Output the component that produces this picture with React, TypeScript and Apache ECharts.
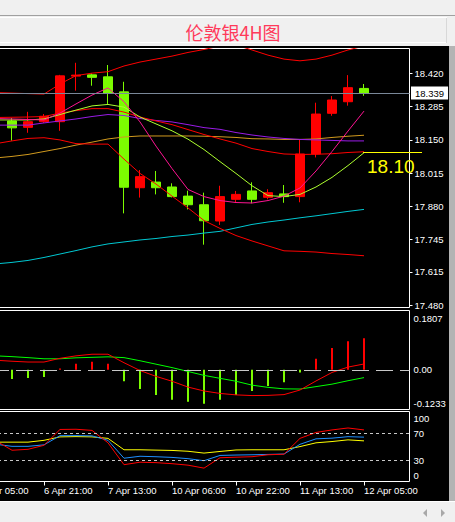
import React, { useEffect, useRef } from "react";
import * as echarts from "echarts";

const chartTitle = "伦敦银4H图";

// ---- candles (bar index 0..22), 4H bars ----
const candleOpen = [18.227, 18.201, 18.224, 18.224, 18.409, 18.414, 18.406, 18.345, 17.956, 17.979, 17.959, 17.922, 17.887, 17.821, 17.909, 17.943, 17.917, 17.931, 17.920, 18.093, 18.258, 18.305, 18.359];
const candleClose = [18.199, 18.224, 18.246, 18.410, 18.413, 18.404, 18.339, 17.958, 18.001, 17.956, 17.920, 17.887, 17.822, 17.920, 17.929, 17.909, 17.936, 17.920, 18.093, 18.255, 18.312, 18.362, 18.339];
const candleLow = [18.147, 18.179, 18.219, 18.187, 18.350, 18.370, 18.296, 17.852, 17.916, 17.929, 17.917, 17.868, 17.725, 17.805, 17.895, 17.893, 17.909, 17.895, 17.897, 18.079, 18.248, 18.289, 18.329];
const candleHigh = [18.239, 18.264, 18.255, 18.414, 18.463, 18.420, 18.454, 18.386, 18.028, 18.024, 17.974, 17.944, 17.936, 17.964, 17.943, 17.978, 17.950, 17.967, 18.152, 18.301, 18.328, 18.413, 18.377];

// ---- indicator lines start one bar earlier (bar index -1..22) ----
const lineStartBar = -1;
const bollUpper = [18.342, 18.340, 18.338, 18.336, 18.377, 18.411, 18.421, 18.427, 18.450, 18.466, 18.478, 18.490, 18.505, 18.517, 18.531, 18.535, 18.515, 18.494, 18.478, 18.471, 18.478, 18.494, 18.515, 18.531];
const bollMid = [18.241, 18.242, 18.243, 18.245, 18.259, 18.269, 18.277, 18.277, 18.263, 18.243, 18.227, 18.212, 18.192, 18.172, 18.154, 18.137, 18.115, 18.103, 18.093, 18.091, 18.092, 18.094, 18.099, 18.102];
const bollLower = [18.135, 18.146, 18.156, 18.159, 18.150, 18.135, 18.133, 18.133, 18.072, 18.014, 17.971, 17.922, 17.874, 17.823, 17.791, 17.762, 17.740, 17.720, 17.700, 17.698, 17.695, 17.689, 17.685, 17.680];
const maPink = [18.237, 18.235, 18.233, 18.231, 18.259, 18.296, 18.332, 18.361, 18.305, 18.223, 18.125, 18.034, 17.949, 17.920, 17.904, 17.896, 17.894, 17.904, 17.922, 17.955, 18.024, 18.103, 18.186, 18.267];
const maLime = [18.231, 18.231, 18.231, 18.235, 18.253, 18.271, 18.288, 18.294, 18.283, 18.243, 18.215, 18.187, 18.153, 18.111, 18.062, 18.014, 17.964, 17.924, 17.920, 17.929, 17.959, 17.998, 18.046, 18.098];
const maPurple = [18.210, 18.210, 18.210, 18.219, 18.227, 18.235, 18.245, 18.253, 18.249, 18.237, 18.229, 18.223, 18.212, 18.200, 18.193, 18.180, 18.170, 18.162, 18.156, 18.152, 18.150, 18.148, 18.146, 18.146];
const maOrange = [18.077, 18.083, 18.091, 18.103, 18.115, 18.129, 18.141, 18.154, 18.162, 18.166, 18.166, 18.166, 18.166, 18.165, 18.163, 18.160, 18.155, 18.154, 18.152, 18.152, 18.154, 18.160, 18.165, 18.169];
const maCyan = [17.647, 17.653, 17.661, 17.673, 17.687, 17.701, 17.716, 17.728, 17.736, 17.744, 17.750, 17.758, 17.764, 17.772, 17.779, 17.793, 17.807, 17.817, 17.825, 17.834, 17.842, 17.851, 17.860, 17.868];

// ---- MACD ----
const macdHist = [-0.0292, -0.0261, -0.0230, 0.0040, 0.0195, 0.0257, 0.0195, -0.0363, -0.0611, -0.0797, -0.0952, -0.1014, -0.1076, -0.0952, -0.0797, -0.0673, -0.0518, -0.0394, -0.0084, 0.0350, 0.0692, 0.0909, 0.1002];
const macdDif = [0.0304, 0.0273, 0.0248, 0.0248, 0.0366, 0.0444, 0.0496, 0.0496, 0.0226, -0.0022, -0.0208, -0.0363, -0.0549, -0.0673, -0.0751, -0.0797, -0.0819, -0.0813, -0.0788, -0.0642, -0.0354, -0.0084, 0.0087, 0.0186];
const macdDea = [0.0444, 0.0419, 0.0388, 0.0351, 0.0351, 0.0382, 0.0397, 0.0413, 0.0388, 0.0289, 0.0180, 0.0071, -0.0053, -0.0177, -0.0270, -0.0363, -0.0487, -0.0558, -0.0605, -0.0611, -0.0534, -0.0456, -0.0347, -0.0248];

// ---- stochastic-type oscillator ----
const oscRed = [58.8, 44.9, 46.3, 52.2, 75.7, 76.0, 74.3, 55.9, 23.5, 27.2, 26.5, 25.0, 22.8, 18.4, 33.8, 34.6, 35.3, 38.2, 39.0, 62.5, 71.3, 75.0, 77.9, 75.0];
const oscBlue = [53.7, 50.7, 50.7, 52.9, 66.5, 66.6, 66.2, 59.6, 33.1, 36.0, 35.3, 34.3, 32.4, 29.4, 37.2, 37.8, 38.2, 38.7, 39.3, 53.7, 61.8, 62.8, 65.0, 64.3];
const oscYellow = [56.9, 56.9, 56.9, 59.6, 64.7, 65.1, 64.7, 62.5, 45.6, 45.6, 45.1, 44.6, 43.4, 40.7, 43.1, 45.3, 45.6, 45.6, 45.6, 50.3, 55.9, 57.8, 60.3, 58.8];
const oscLevels = [70, 30];

// ---- axes ----
const priceTicks = [17.48, 17.615, 17.745, 17.88, 18.015, 18.15, 18.285, 18.42];
const priceMin = 17.47;
const priceMax = 18.521;
const macdTop = 0.1807;
const macdBottom = -0.1233;
const macdMin = -0.1262;
const macdMax = 0.1887;
const oscMin = -1.4;
const oscMax = 102.3;
const timeTickBars = [-2, 2, 6, 10, 14, 18, 22];
const timeTickLabels = ["6 Apr 05:00", "6 Apr 21:00", "7 Apr 13:00", "10 Apr 06:00", "10 Apr 22:00", "11 Apr 13:00", "12 Apr 05:00"];
const levelPrice = 18.1;
const levelLabel = "18.10";

const C = {
  up: "#ff0000",
  down: "#7cfc00",
  pink: "#ff1493",
  lime: "#adff2f",
  purple: "#9a1be8",
  orange: "#d19a1e",
  cyan: "#00c8d2",
  red: "#ff0000",
  bid: "#7a8899",
  text: "#ffffff",
  yellow: "#ffff00",
  blue: "#1e90ff",
  macdGreen: "#00ff00",
};
const FONT = "'Liberation Sans', Arial, sans-serif";
const XMIN = -2.75;
const XMAX = 24.84375;

function buildOption(): any {
  const gridBase = {
    left: -32, right: 45.5, show: true, borderColor: "#ffffff", borderWidth: 1, backgroundColor: "transparent",
    containLabel: false, outerBoundsMode: "none",
  };
  const hiddenX = (gridIndex: number) => ({
    type: "value", gridIndex, min: XMIN, max: XMAX,
    axisLine: { show: false, onZero: false }, axisTick: { show: false }, axisLabel: { show: false }, splitLine: { show: false },
  });
  const labelY = (gridIndex: number, min: number, max: number, values: number[], texts: string[], va: string, margin: number, tick: boolean) => ({
    type: "value", gridIndex, position: "right", min, max,
    axisLine: { show: false, onZero: false }, splitLine: { show: false },
    axisTick: tick ? { show: true, length: 3, customValues: values, lineStyle: { color: "#ffffff" } } : { show: false },
    axisLabel: {
      show: true, customValues: values, color: C.text, fontSize: 9.5, fontFamily: FONT, margin, verticalAlign: va,
      formatter: (v: number) => { const k = values.findIndex((t) => Math.abs(t - v) < 1e-9); return k >= 0 ? texts[k] : ""; },
    },
  });
  const pts = (vals: number[], start: number) => vals.map((v, k) => [start + k, v]);
  const line = (vals: number[], color: string, xi: number, yi: number, extra: any = {}) => ({
    type: "line", xAxisIndex: xi, yAxisIndex: yi, data: pts(vals, lineStartBar), showSymbol: false, symbol: "none",
    lineStyle: { color, width: 1 }, z: 3, silent: true, ...extra,
  });
  const bidPrice = candleClose[candleClose.length - 1];

  return {
    animation: false,
    backgroundColor: "#000000",
    textStyle: { fontFamily: FONT },
    grid: [
      { ...gridBase, top: 48.5, height: 259 },
      { ...gridBase, top: 310.5, height: 99 },
      { ...gridBase, top: 411.5, height: 70 },
    ],
    xAxis: [
      hiddenX(0),
      hiddenX(1),
      {
        type: "value", gridIndex: 2, min: XMIN, max: XMAX, splitLine: { show: false }, axisLine: { show: false, onZero: false },
        axisTick: { show: true, length: 4, customValues: timeTickBars, lineStyle: { color: "#ffffff" } },
        axisLabel: {
          show: true, customValues: timeTickBars, color: C.text, fontSize: 9.5, fontFamily: FONT, align: "left", margin: 4,
          formatter: (v: number) => { const k = timeTickBars.indexOf(Math.round(v)); return k >= 0 ? timeTickLabels[k] : ""; },
        },
      },
    ],
    yAxis: [
      labelY(0, priceMin, priceMax, priceTicks, priceTicks.map((v) => v.toFixed(3)), "middle", 5, true),
      labelY(1, macdMin, macdMax, [0], ["0.00"], "middle", 4, false),
      labelY(1, macdMin, macdMax, [macdTop], [macdTop.toFixed(4)], "top", 4, false),
      labelY(1, macdMin, macdMax, [macdBottom], [macdBottom.toFixed(4)], "bottom", 4, false),
      labelY(2, oscMin, oscMax, oscLevels, oscLevels.map(String), "middle", 4, false),
      labelY(2, oscMin, oscMax, [100], ["100"], "top", 4, false),
      labelY(2, oscMin, oscMax, [0], ["0"], "bottom", 4, false),
    ],
    series: [
      {
        type: "candlestick", xAxisIndex: 0, yAxisIndex: 0, barWidth: 10, silent: true,
        data: candleOpen.map((o, k) => [k, o, candleClose[k], candleLow[k], candleHigh[k]]),
        itemStyle: { color: C.up, color0: C.down, borderColor: C.up, borderColor0: C.down, borderWidth: 1 },
        markLine: {
          symbol: ["none", "none"], silent: true, animation: false,
          data: [{ yAxis: bidPrice }],
          lineStyle: { color: C.bid, width: 1, type: "solid" },
          label: { show: true, position: "end", formatter: bidPrice.toFixed(3), color: "#000000", backgroundColor: "#ffffff", padding: [2, 4, 1, 4], fontSize: 9.5, fontFamily: FONT, distance: 1.5 },
        },
      },
      line(maCyan, C.cyan, 0, 0),
      line(maOrange, C.orange, 0, 0),
      line(maPurple, C.purple, 0, 0),
      line(bollUpper, C.red, 0, 0),
      line(bollMid, C.red, 0, 0),
      line(bollLower, C.red, 0, 0),
      line(maLime, C.lime, 0, 0),
      line(maPink, C.pink, 0, 0),
      {
        type: "bar", xAxisIndex: 1, yAxisIndex: 1, barWidth: 2, silent: true,
        data: macdHist.map((v, k) => ({ value: [k, v], itemStyle: { color: v >= 0 ? C.up : C.down } })),
        markLine: {
          symbol: ["none", "none"], silent: true, animation: false, data: [{ yAxis: 0 }],
          lineStyle: { color: "#c8c8c8", width: 1, type: [17, 7] }, label: { show: false },
        },
      },
      line(macdDea, C.macdGreen, 1, 1),
      line(macdDif, C.red, 1, 1),
      line(oscYellow, C.yellow, 2, 4, {
        markLine: {
          symbol: ["none", "none"], silent: true, animation: false, data: oscLevels.map((v) => ({ yAxis: v })),
          lineStyle: { color: "#c8c8c8", width: 1, type: [3, 3] }, label: { show: false },
        },
      }),
      line(oscBlue, C.blue, 2, 4),
      line(oscRed, C.red, 2, 4),
    ],
    graphic: [
      { id: "topBand", type: "rect", z: 100, silent: true, shape: { x: 0, y: 0, width: 455, height: 46 }, style: { fill: "#f0f0f0" } },
      { id: "topRule", type: "line", z: 101, silent: true, shape: { x1: 0, y1: 15.5, x2: 455, y2: 15.5 }, style: { stroke: "#a0a0a0", lineWidth: 1 } },
      { id: "titleTop", type: "line", z: 101, silent: true, shape: { x1: 0, y1: 17.5, x2: 447, y2: 17.5 }, style: { stroke: "#ffffff", lineWidth: 1 } },
      { id: "titleBottom", type: "line", z: 101, silent: true, shape: { x1: 0, y1: 42.5, x2: 447, y2: 42.5 }, style: { stroke: "#ffffff", lineWidth: 1 } },
      { id: "titleRight", type: "line", z: 101, silent: true, shape: { x1: 446.5, y1: 18, x2: 446.5, y2: 43 }, style: { stroke: "#d8d8d8", lineWidth: 1 } },
      {
        id: "title", type: "text", z: 102, silent: true, x: 233, y: 32,
        style: { text: chartTitle, fill: "#ff3a5a", fontSize: 18, fontFamily: "'Noto Sans CJK SC', sans-serif", align: "center", verticalAlign: "middle" },
      },
      { id: "rightStrip", type: "rect", z: 100, silent: true, shape: { x: 449, y: 46, width: 6, height: 456 }, style: { fill: "#b4b4b4" } },
      { id: "bottomBand", type: "rect", z: 100, silent: true, shape: { x: 0, y: 501, width: 455, height: 21 }, style: { fill: "#f0f0f0" } },
      { id: "bottomRule", type: "line", z: 101, silent: true, shape: { x1: 0, y1: 501.5, x2: 455, y2: 501.5 }, style: { stroke: "#ffffff", lineWidth: 1 } },
      { id: "arrowL", type: "polygon", z: 101, silent: true, shape: { points: [[427, 509], [427, 517], [423, 513]] }, style: { fill: "#a8a8a8" } },
      { id: "arrowR", type: "polygon", z: 101, silent: true, shape: { points: [[441, 509], [441, 517], [445, 513]] }, style: { fill: "#a8a8a8" } },
    ],
  };
}

export default function App() {
  const ref = useRef<HTMLDivElement>(null);
  useEffect(() => {
    const el = ref.current;
    if (!el) return;
    const chart = echarts.init(el, undefined, { renderer: "svg", width: 455, height: 522 });
    chart.setOption(buildOption());
    const p = chart.convertToPixel({ xAxisIndex: 0, yAxisIndex: 0 }, [0, levelPrice]) as number[];
    const yL = Math.round(p[1]) + 0.5;
    chart.setOption({
      graphic: [
        { id: "levelLine", type: "line", z: 60, silent: true, shape: { x1: 363, y1: yL, x2: 422, y2: yL }, style: { stroke: C.yellow, lineWidth: 1 } },
        {
          id: "levelText", type: "text", z: 60, silent: true, x: 367, y: yL + 14,
          style: { text: levelLabel, fill: C.yellow, fontSize: 19, fontFamily: FONT, align: "left", verticalAlign: "middle" },
        },
      ],
    });
    return () => chart.dispose();
  }, []);
  return <div ref={ref} style={{ position: "fixed", left: 0, top: 0, width: 455, height: 522 }} />;
}
